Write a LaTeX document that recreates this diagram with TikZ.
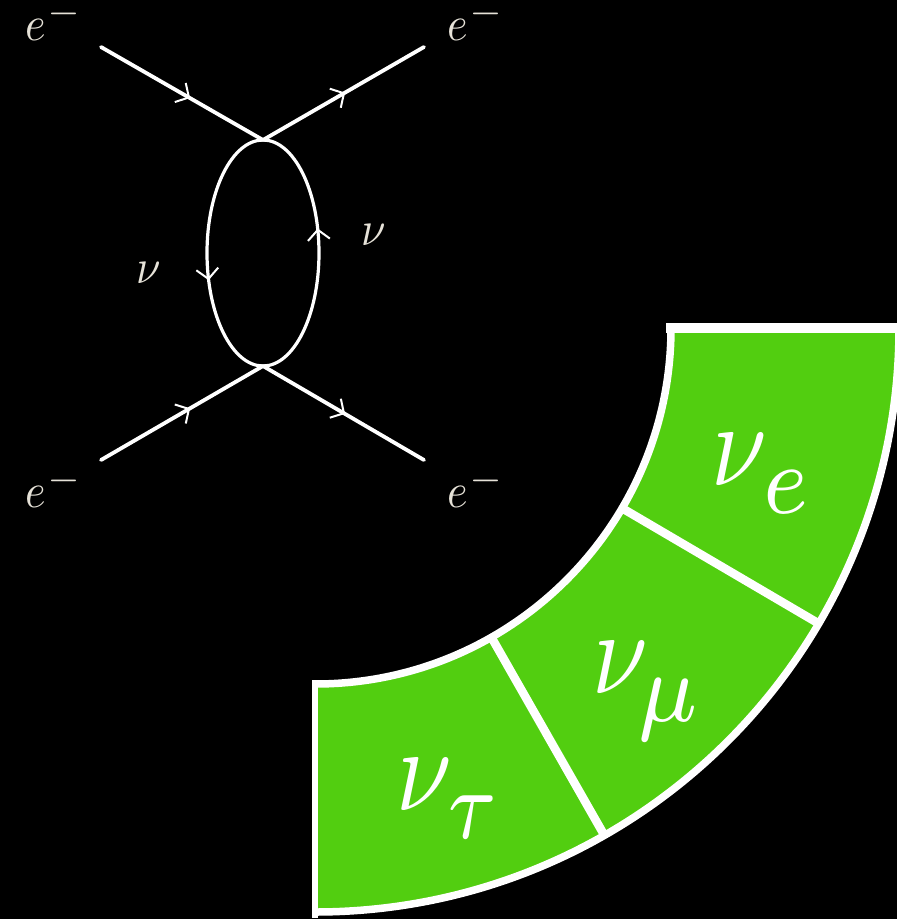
\documentclass[tikz,border=0pt]{standalone}
\usepackage{amsmath}
\usetikzlibrary{arrows.meta,decorations.markings,calc}
\definecolor{bandgreen}{HTML}{52CE10}
\definecolor{labelcream}{HTML}{E6E2D8}
\newcommand{\flavour}[3]{$\nu$\kern#1pt\raisebox{-2.4pt}{\scalebox{#2}[1.18]{$\scriptstyle #3$}}}
\newcommand{\elec}{$e$\kern0.3pt\raisebox{3.6pt}{\smash{\scalebox{1.2}[1]{$\scriptstyle -$}}}}
\tikzset{
  x=1pt,y=-1pt,
  barb/.style={decoration={markings,mark=at position #1 with {\arrow{Straight Barb[length=10pt,width=22pt,line width=2pt,white]}}},postaction={decorate}},
  fermion/.style={draw=white,line width=3.8pt,line cap=round,barb=#1},
  loopline/.style={draw=white,line width=3.2pt,barb=#1},
  smalllabel/.style={text=labelcream,xscale=4.4,yscale=4.9,inner sep=0pt,anchor=base west},
  bandcell/.style={fill=bandgreen},
  bandedge/.style={draw=white,line width=7.5pt,line cap=butt},
  biglabel/.style={text=white,xscale=10,yscale=12,inner sep=0pt,anchor=base west},
}
\begin{document}
\begin{tikzpicture}
\useasboundingbox (0,0) rectangle (897,919);
\fill[black] (0,0) rectangle (897,919);
% Feynman diagram
\coordinate (tl) at (101,47);
\coordinate (tr) at (424,47);
\coordinate (bl) at (101,460);
\coordinate (br) at (424,460);
\coordinate (vt) at (263,140);
\coordinate (vb) at (263,366);
\draw[loopline=.6] (vt) arc[start angle=270,end angle=90,x radius=56,y radius=113];
\draw[loopline=.59] (vb) arc[start angle=90,end angle=-90,x radius=56,y radius=113];
\draw[fermion=.55] (tl) -- (vt);
\draw[fermion=.51] (vt) -- (tr);
\draw[fermion=.55] (bl) -- (vb);
\draw[fermion=.51] (vb) -- (br);
\node[smalllabel] (e1) at (25,40) {\elec};
\node[smalllabel] (e2) at (447,40) {\elec};
\node[smalllabel] (e3) at (25,507) {\elec};
\node[smalllabel] (e4) at (447,507) {\elec};
\node[smalllabel] (n1) at (136,283) {$\nu$};
\node[smalllabel] (n2) at (361,245) {$\nu$};
% Band of three neutrino flavours
\coordinate (c) at (315,328);
\path[bandcell] ($(c)+(0:356)$) arc[start angle=0,end angle=90,radius=356]
    -- ($(c)+(90:584)$) arc[start angle=90,end angle=0,radius=584] -- cycle;
\draw[bandedge] ($(c)+(0:356)$) arc[start angle=0,end angle=90,radius=356];
\draw[bandedge] ($(c)+(0:584)$) arc[start angle=0,end angle=90,radius=584];
\draw[bandedge,line width=8.5pt] ($(c)+(30.4:356)$) -- ($(c)+(30.4:584)$);
\draw[bandedge,line width=8.5pt] ($(c)+(60.3:356)$) -- ($(c)+(60.3:584)$);
\draw[bandedge,line width=10pt] (666,328) -- (899,328);
\draw[bandedge,line width=6pt] (314.5,680) -- (314.5,918);
\node[biglabel] (ne) at (709,485) {\flavour{-0.45}{1.22}{e}};
\node[biglabel] (nm) at (590,693) {\flavour{-1.05}{1.26}{\mu}};
\node[biglabel] (nt) at (394,810) {\flavour{-0.45}{1.12}{\tau}};
\end{tikzpicture}
\end{document}
